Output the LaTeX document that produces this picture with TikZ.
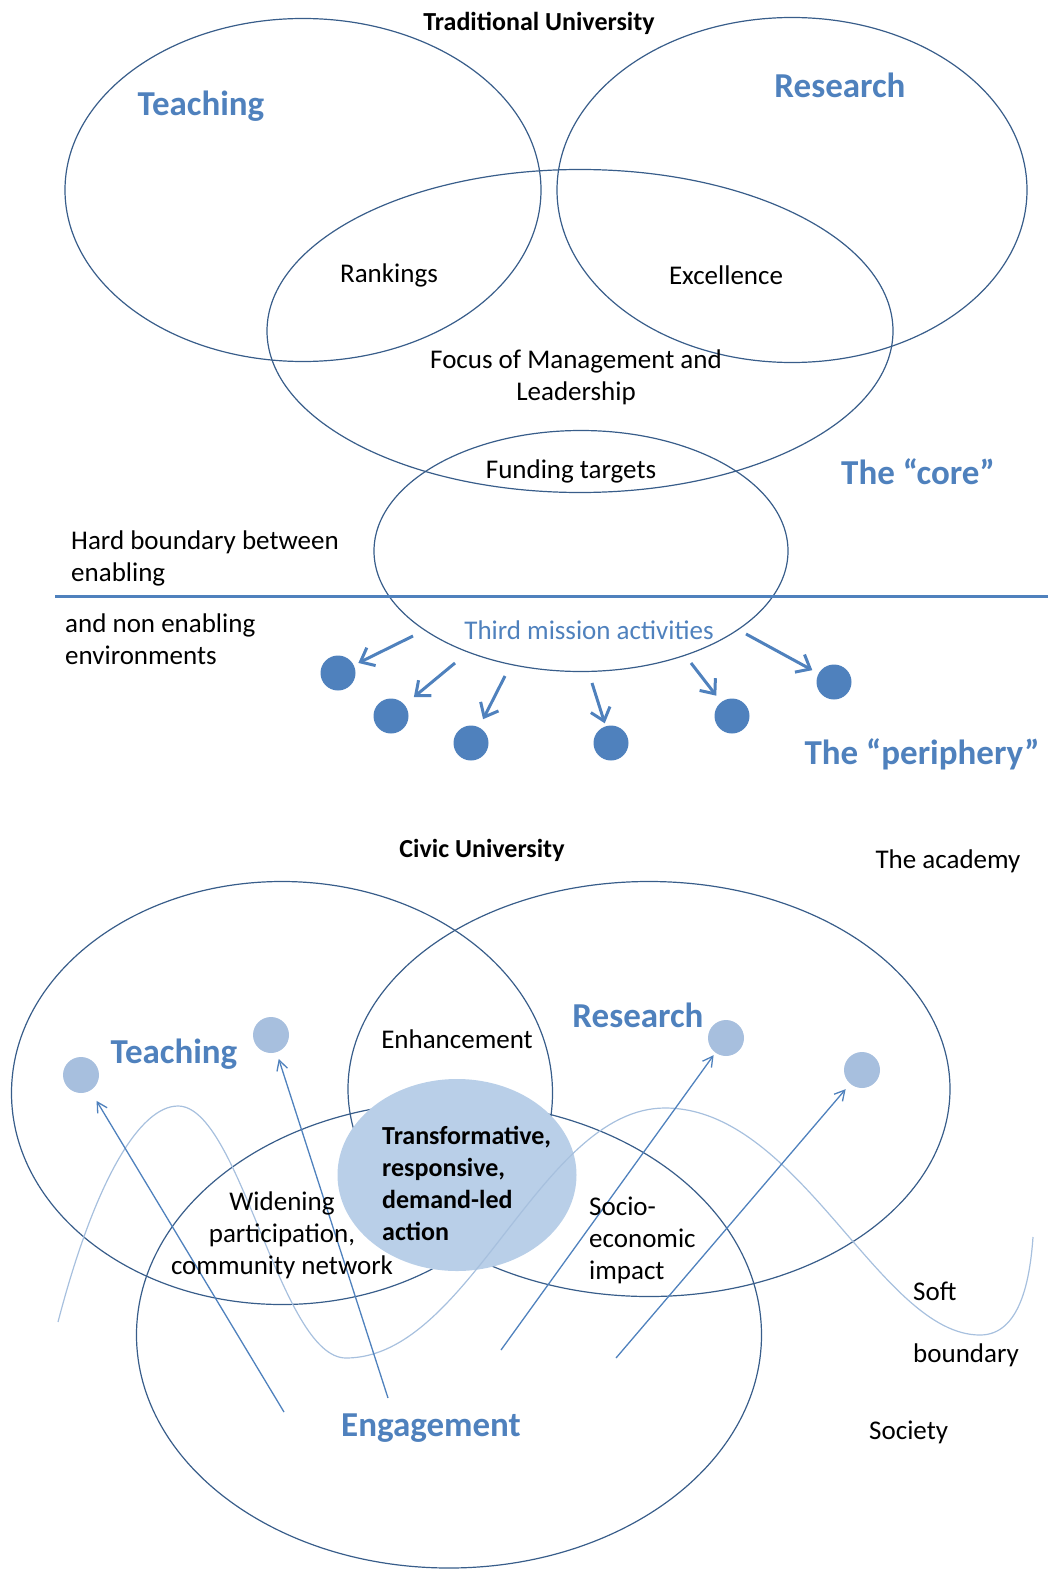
\documentclass[tikz,border=0pt]{standalone}
\usepackage{fontspec}
\setmainfont{Carlito}
\usetikzlibrary{shapes.geometric,arrows.meta}

\definecolor{rim}{HTML}{385D8A}
\definecolor{accent}{HTML}{4F81BD}
\definecolor{pale}{HTML}{B9CFE8}
\definecolor{paledot}{HTML}{A7BFDE}
\definecolor{wavecol}{HTML}{A7C0DE}

\tikzset{
  ring/.style={draw=rim, line width=1.2pt, ellipse, inner sep=0pt},
  txt/.style={font=\fontsize{27}{32}\selectfont, inner sep=0pt, yshift=-2pt},
  title/.style={font=\fontsize{26}{32}\selectfont\bfseries, inner sep=0pt, yshift=-2pt},
  head/.style={font=\fontsize{35}{42}\selectfont\bfseries, text=accent, inner sep=0pt, yshift=-2pt},
  dot/.style={circle, fill=accent, minimum size=35pt, inner sep=0pt},
  softdot/.style={circle, fill=paledot, minimum size=36pt, inner sep=0pt},
  outarrow/.style={accent, line width=3pt, -{Straight Barb[length=12pt,width=20pt]}},
  inarrow/.style={accent, line width=1.3pt, -{Straight Barb[length=10pt,width=11pt]}}
}

\begin{document}
\begin{tikzpicture}[x=1pt,y=-1pt]
  \useasboundingbox (0,0) rectangle (1048,1570);

  % traditional university
  \node (tTeach) [ring, minimum width=476, minimum height=343] at (303,190) {};
  \node (tRes) [ring, minimum width=470, minimum height=345] at (792,190) {};
  \node (tMan) [ring, minimum width=626, minimum height=323] at (580,331) {};
  \node (tThird) [ring, minimum width=414, minimum height=241] at (581,551) {};
  \coordinate (hardL) at (55,596);
  \coordinate (hardR) at (1048,596);
  \draw [accent, line width=3pt] (hardL) -- (hardR);

  \node (trad) [title] at (539,21) {Traditional University};
  \node (teachT) [head] at (201,104) {Teaching};
  \node (resT) [head] at (840,83) {Research};
  \node (rank) [txt] at (389,273) {Rankings};
  \node (excel) [txt] at (726,273) {Excellence};
  \node (focus) [txt, align=center] at (576,375) {Focus of Management and\\Leadership};
  \node (fund) [txt] at (571,469) {Funding targets};
  \node (core) [head] at (918,470) {The “core”};
  \node (hard) [txt, align=left, anchor=west] at (71,556) {Hard boundary between\\enabling};
  \node (nonen) [txt, align=left, anchor=west] at (65,637) {and non enabling\\environments};
  \node (third) [txt, text=accent] at (589,628) {Third mission activities};
  \node (periph) [head] at (922,752) {The “periphery”};

  \node (d1) [dot] at (338,673) {};
  \node (d2) [dot] at (391,716) {};
  \node (d3) [dot] at (471,743) {};
  \node (d4) [dot] at (611,743) {};
  \node (d5) [dot] at (732,716) {};
  \node (d6) [dot] at (834,682) {};
  \coordinate (s1) at (413,636);
  \coordinate (s2) at (455,663);
  \coordinate (s3) at (505,676);
  \coordinate (s4) at (592,683);
  \coordinate (s5) at (691,663);
  \coordinate (s6) at (746,634);
  \draw [outarrow, shorten >=5pt] (s1) -- (d1);
  \draw [outarrow, shorten >=12pt] (s2) -- (d2);
  \draw [outarrow, shorten >=9pt] (s3) -- (d3);
  \draw [outarrow, shorten >=3pt] (s4) -- (d4);
  \draw [outarrow, shorten >=8pt] (s5) -- (d5);
  \draw [outarrow, shorten >=7pt] (s6) -- (d6);

  % civic university
  \node (bTeach) [ring, minimum width=541, minimum height=423] at (282,1093) {};
  \node (bRes) [ring, minimum width=602, minimum height=415] at (649,1089) {};
  \node (bEng) [ring, minimum width=625, minimum height=466] at (449,1335) {};
  \node (core2) [ellipse, fill=pale, minimum width=239, minimum height=192, inner sep=0pt] at (457,1175) {};

  \draw [wavecol, line width=1.2pt] (58,1322) .. controls (95,1180) and (140,1106) .. (178,1106)
    .. controls (240,1106) and (280,1358) .. (346,1358)
    .. controls (470,1358) and (540,1108) .. (665,1108)
    .. controls (800,1108) and (880,1335) .. (980,1335)
    .. controls (1020,1335) and (1030,1280) .. (1033,1237);

  \node (l1) [softdot] at (81,1075) {};
  \node (l2) [softdot] at (271,1035) {};
  \node (l3) [softdot] at (726,1038) {};
  \node (l4) [softdot] at (862,1070) {};
  \coordinate (e1) at (284,1412);
  \coordinate (e2) at (388,1398);
  \coordinate (e3) at (501,1350);
  \coordinate (e4) at (616,1358);
  \draw [inarrow, shorten >=12pt] (e1) -- (l1);
  \draw [inarrow, shorten >=7pt] (e2) -- (l2);
  \draw [inarrow, shorten >=3pt] (e3) -- (l3);
  \draw [inarrow, shorten >=7pt] (e4) -- (l4);

  \node (civic) [title] at (482,848) {Civic University};
  \node (academy) [txt] at (948,859) {The academy};
  \node (teachB) [head] at (174,1052) {Teaching};
  \node (resB) [head] at (638,1013) {Research};
  \node (enh) [txt] at (457,1037) {Enhancement};
  \node (transf) [title, align=left, anchor=west] at (382,1181) {Transformative,\\responsive,\\demand-led\\action};
  \node (widen) [txt, align=center] at (282,1233) {Widening\\participation,\\community network};
  \node (socio) [txt, align=left, anchor=west] at (589,1238) {Socio-\\economic\\impact};
  \node (soft) [txt, anchor=west] at (913,1289) {Soft};
  \node (bound) [txt, anchor=west] at (913,1353) {boundary};
  \node (society) [txt, anchor=west] at (869,1430) {Society};
  \node (engage) [head] at (431,1426) {Engagement};
\end{tikzpicture}
\end{document}
